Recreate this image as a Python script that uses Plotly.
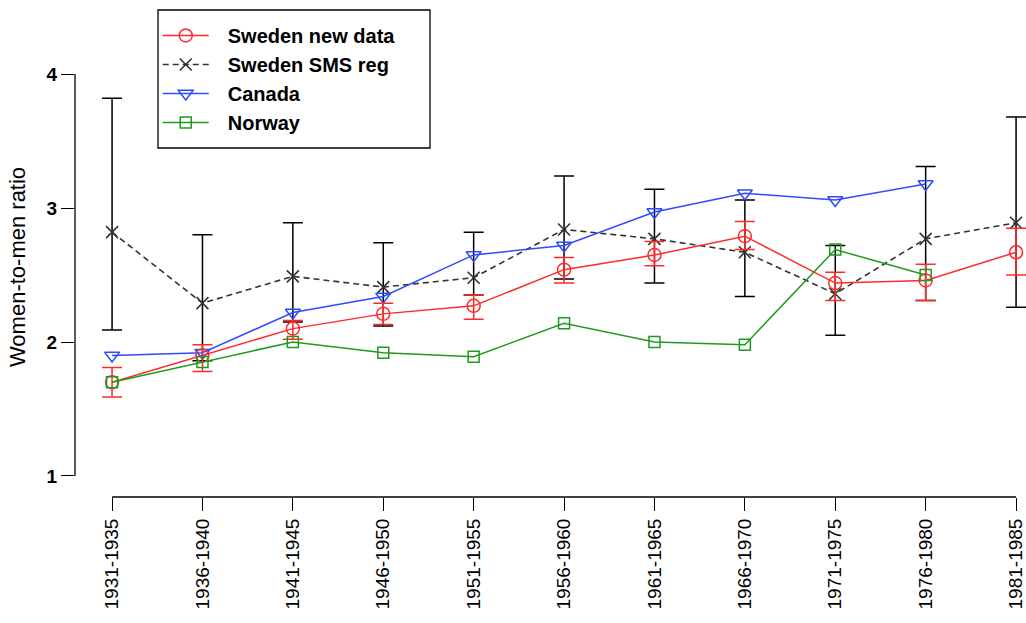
import plotly.graph_objects as go

# Birth cohorts (five-year periods)
periods = ["1931-1935", "1936-1940", "1941-1945", "1946-1950", "1951-1955",
           "1956-1960", "1961-1965", "1966-1970", "1971-1975", "1976-1980",
           "1981-1985"]

# Sweden, new data: ratio with confidence bounds
sweden_new = [1.70, 1.90, 2.10, 2.21, 2.27, 2.54, 2.65, 2.79, 2.44, 2.46, 2.67]
sweden_new_lo = [1.59, 1.78, 2.02, 2.13, 2.17, 2.44, 2.57, 2.69, 2.31, 2.31, 2.50]
sweden_new_hi = [1.81, 1.98, 2.16, 2.29, 2.35, 2.63, 2.75, 2.90, 2.52, 2.58, 2.85]

# Sweden, SMS register: ratio with confidence bounds
sweden_sms = [2.82, 2.29, 2.49, 2.41, 2.48, 2.84, 2.77, 2.67, 2.36, 2.77, 2.89]
sweden_sms_lo = [2.09, 1.86, 2.15, 2.12, 2.35, 2.47, 2.44, 2.34, 2.05, 2.31, 2.26]
sweden_sms_hi = [3.82, 2.80, 2.89, 2.74, 2.82, 3.24, 3.14, 3.06, 2.72, 3.31, 3.68]

# Canada and Norway (no estimate for the last cohort)
canada = [1.90, 1.92, 2.22, 2.34, 2.65, 2.72, 2.97, 3.11, 3.06, 3.18, None]
norway = [1.70, 1.85, 2.00, 1.92, 1.89, 2.14, 2.00, 1.98, 2.69, 2.50, None]

y_ticks = [1, 2, 3, 4]

RED = "#FF2A2A"
BLUE = "#2F4BFF"
GREEN = "#1E9A1E"
BLACK = "#000000"
FONT = "Liberation Sans, Arial, sans-serif"
PAD = "\u2002\u2009"  # small gap between legend symbol and label


def err(vals, lo, hi):
    plus = [h - v for v, h in zip(vals, hi)]
    minus = [v - l for v, l in zip(vals, lo)]
    return plus, minus


sms_plus, sms_minus = err(sweden_sms, sweden_sms_lo, sweden_sms_hi)
new_plus, new_minus = err(sweden_new, sweden_new_lo, sweden_new_hi)

fig = go.Figure()

fig.add_trace(go.Scatter(
    x=periods, y=sweden_sms, name=PAD + "Sweden SMS reg", legendrank=2,
    mode="lines+markers",
    line=dict(color="#333333", width=1.6, dash="6px,4px"),
    marker=dict(symbol="x-thin-open", size=12, line=dict(color=BLACK, width=1.6)),
    error_y=dict(type="data", array=sms_plus, arrayminus=sms_minus,
                 color=BLACK, thickness=1.5, width=10),
))

fig.add_trace(go.Scatter(
    x=periods, y=canada, name=PAD + "Canada", legendrank=3,
    mode="lines+markers",
    line=dict(color=BLUE, width=1.5),
    marker=dict(symbol="triangle-down-open", size=13, color=BLUE,
                line=dict(color=BLUE, width=1.5)),
))

fig.add_trace(go.Scatter(
    x=periods, y=sweden_new, name=PAD + "Sweden new data", legendrank=1,
    mode="lines+markers",
    line=dict(color=RED, width=1.5),
    marker=dict(symbol="circle-open", size=13, color=RED,
                line=dict(color=RED, width=1.5)),
    error_y=dict(type="data", array=new_plus, arrayminus=new_minus,
                 color=RED, thickness=1.5, width=10),
))

fig.add_trace(go.Scatter(
    x=periods, y=norway, name=PAD + "Norway", legendrank=4,
    mode="lines+markers",
    line=dict(color=GREEN, width=1.5),
    marker=dict(symbol="square-open", size=11, color=GREEN,
                line=dict(color=GREEN, width=1.5)),
))

# Axis lines spanning only the tick range
fig.add_shape(type="line", xref="paper", yref="y", x0=0, x1=0,
              y0=min(y_ticks), y1=max(y_ticks), line=dict(color=BLACK, width=1.3))
fig.add_shape(type="line", xref="x", yref="paper", x0=0, x1=len(periods) - 1,
              y0=0, y1=0, line=dict(color=BLACK, width=1.3))

# Frame around the legend
fig.add_shape(type="rect", xref="paper", yref="paper",
              x0=0.0873, x1=0.3733, y0=0.795, y1=1.1093,
              line=dict(color=BLACK, width=1.3), fillcolor="white", layer="below")

# Y-axis title
fig.add_annotation(text="Women-to-men ratio", xref="paper", yref="paper",
                   x=-0.0599, y=0.524, xanchor="center", yanchor="middle",
                   textangle=-90, showarrow=False,
                   font=dict(family=FONT, size=22, color=BLACK))

fig.update_layout(
    width=1026, height=623,
    margin=dict(l=75, r=0, t=58, b=126),
    paper_bgcolor="white", plot_bgcolor="white",
    font=dict(family=FONT, size=17, color=BLACK),
    showlegend=True,
    legend=dict(
        x=0.087, y=1.0957, xanchor="left", yanchor="top",
        borderwidth=0, bgcolor="rgba(0,0,0,0)",
        font=dict(family=FONT, size=20, color=BLACK, weight="bold"),
        itemwidth=46,
    ),
    xaxis=dict(
        type="category", range=[-0.41, 10.11],
        showgrid=False, zeroline=False, showline=False,
        ticks="outside", ticklen=13, tickwidth=1.3, tickcolor=BLACK,
        tickangle=-90,
        tickfont=dict(family=FONT, size=19),
    ),
    yaxis=dict(
        range=[0.843, 4.12],
        tickvals=y_ticks, ticktext=[str(v) for v in y_ticks],
        showgrid=False, zeroline=False, showline=False,
        ticks="outside", ticklen=13, tickwidth=1.3, tickcolor=BLACK,
        tickfont=dict(family=FONT, size=19, weight="bold"),
    ),
)

fig.write_html("out.html")
